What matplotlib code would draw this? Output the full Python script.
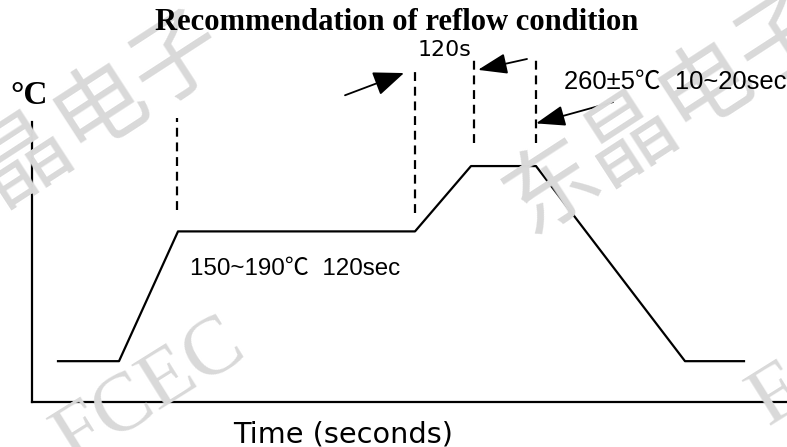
import matplotlib
matplotlib.use("Agg")
import matplotlib.pyplot as plt

# ---- data (schematic reflow profile) ----
profile_time = [13, 43.5, 73, 191.5, 219.5, 252, 326.5, 356]      # seconds
profile_temp = [45, 45, 188, 188, 260, 260, 45, 45]                # degC

title = "Recommendation of reflow condition"
y_unit = "°C"
x_label = "Time (seconds)"
soak_label = "150~190℃  120sec"
peak_label = "260±5℃  10~20sec"
ramp_label = "120s"
watermark_cn = "东晶电子"
watermark_en = "FCEC"

W, H = 787, 447
fig = plt.figure(figsize=(W / 100, H / 100), dpi=100)
fig.patch.set_facecolor("white")

# axes from the y-axis line (x=32px) to right edge, from x-axis line (y=402px) to top
ax = fig.add_axes([32 / W, (H - 402) / H, (W - 32) / W, 402 / H])
ax.set_xlim(0, 377.5)
ax.set_ylim(0, 443)
ax.patch.set_alpha(0)
ax.set_xticks([])
ax.set_yticks([])
for s in ["top", "right"]:
    ax.spines[s].set_visible(False)
ax.spines["left"].set_linewidth(1.6)
ax.spines["bottom"].set_linewidth(1.6)
ax.spines["left"].set_bounds(0, 308.5)

# ---- watermarks ----
wm_col = "#d9d9d9"
for (cx, cy) in [(63, 133), (668, 112)]:
    fig.text(cx / W, 1 - cy / H, watermark_cn, fontsize=66, color=wm_col,
             family=["Noto Sans CJK SC"], rotation=33, rotation_mode="anchor",
             ha="center", va="center", zorder=0)
fig.text(150 / W, 1 - 392 / H, watermark_en, fontsize=60, color=wm_col,
         family=["Liberation Serif"], rotation=32,
         rotation_mode="anchor", ha="center", va="center", zorder=0)
fig.text(768 / W, 1 - 426 / H, watermark_en, fontsize=60, color=wm_col,
         family=["Liberation Serif"], rotation=32,
         rotation_mode="anchor", ha="left", va="baseline", zorder=0)

# ---- profile ----
ax.plot(profile_time, profile_temp, color="black", lw=1.6, zorder=3, clip_on=False)

# dashed markers at soak start/end and peak start/end
dash = (0, (4, 2.6))
ax.plot([profile_time[2] - 0.5] * 2, [211.5, 313], color="black", lw=1.6, ls=dash)
ax.plot([profile_time[3]] * 2, [208, 369], color="black", lw=1.6, ls=dash)
ax.plot([profile_time[4] + 1.5] * 2, [285, 379], color="black", lw=1.6, ls=dash)
ax.plot([profile_time[5]] * 2, [285, 379], color="black", lw=1.6, ls=dash)

# arrows
def arrow(tail, head, hw=0.35, hl=0.9):
    ax.annotate("", xy=head, xytext=tail,
                arrowprops=dict(arrowstyle=f"-|>,head_length={hl},head_width={hw}",
                                color="black", lw=1.3, mutation_scale=20,
                                shrinkA=0, shrinkB=0))

arrow((156.5, 338), (186, 362.5), hw=0.38, hl=0.95)
arrow((247.5, 378), (223, 366), hw=0.32, hl=0.9)
arrow((290.5, 330.5), (252, 307), hw=0.32, hl=0.9)

# ---- texts ----
def fit(t, width_px):
    fig.canvas.draw()
    r = fig.canvas.get_renderer()
    w = t.get_window_extent(r).width
    t.set_fontsize(t.get_fontsize() * width_px / w)

t_title = fig.text(397 / W, 1 - 23 / H, title, fontsize=16, weight="bold",
                   family=["Liberation Serif"], ha="center", va="center")
fit(t_title, 485)

fig.text(29 / W, 1 - 95 / H, y_unit, fontsize=24, family=["Liberation Serif"],
         weight="bold", ha="center", va="center")

t_ramp = fig.text(444 / W, 1 - 50 / H, ramp_label, fontsize=16,
                  family=["DejaVu Sans"], ha="center", va="center")
fit(t_ramp, 54)

sans = ["Liberation Sans", "Noto Sans CJK SC", "DejaVu Sans"]
t_peak = fig.text(564 / W, 1 - 82 / H, peak_label, fontsize=18, family=sans,
                  ha="left", va="center")
fit(t_peak, 223)
t_soak = fig.text(190 / W, 1 - 269 / H, soak_label, fontsize=18, family=sans,
                  ha="left", va="center")
fit(t_soak, 210)

t_x = fig.text(233 / W, 1 - 434 / H, x_label, fontsize=18, family=["DejaVu Sans"],
               ha="left", va="center")
fit(t_x, 220)

fig.savefig("out.png", dpi=100, facecolor="white")
